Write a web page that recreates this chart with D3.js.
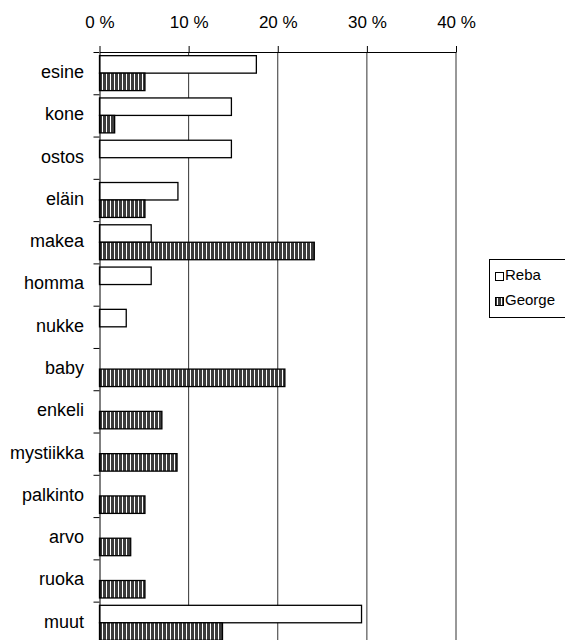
<!DOCTYPE html>
<html>
<head>
<meta charset="utf-8">
<script src="https://cdn.jsdelivr.net/npm/d3@7"></script>
<style>
  html, body { margin: 0; padding: 0; background: #fff; }
  svg { display: block; font-family: "Liberation Sans", Arial, sans-serif; }
</style>
</head>
<body>
<svg id="chart" width="565" height="640"></svg>
<script>
// Word categories and the share (%) of each series
const categories = ["esine", "kone", "ostos", "eläin", "makea", "homma", "nukke", "baby",
                    "enkeli", "mystiikka", "palkinto", "arvo", "ruoka", "muut"];
const reba   = [17.6, 14.8, 14.8, 8.8, 5.8, 5.8, 3.0, 0, 0, 0, 0, 0, 0, 29.4];
const george = [5.1, 1.7, 0, 5.1, 24.1, 0, 0, 20.8, 7.0, 8.7, 5.1, 3.5, 5.1, 13.8];
const seriesNames = ["Reba", "George"];
const xTicks = [0, 10, 20, 30, 40];

const svg = d3.select("#chart");

const plotLeft = 99.5, plotRight = 456, plotTop = 52;
const band = 42.28;

const x = d3.scaleLinear().domain([0, 40]).range([plotLeft, plotRight]);
const y = d3.scaleBand().domain(categories).range([plotTop, plotTop + band * categories.length]);
const yEdge = d3.scaleLinear().domain([0, categories.length]).range([plotTop, plotTop + band * categories.length]);
const ySub = d3.scaleBand().domain(seriesNames).range([0, y.bandwidth()]).paddingInner(0).paddingOuter(0.21);

// striped fill for the second series
const defs = svg.append("defs");
const pat = defs.append("pattern")
  .attr("id", "stripes")
  .attr("patternUnits", "userSpaceOnUse")
  .attr("width", 4).attr("height", 4);
pat.append("rect").attr("width", 4).attr("height", 4).attr("fill", "#3c3c3c");
pat.append("rect").attr("x", 2).attr("width", 1).attr("height", 4).attr("fill", "#fff");

// vertical gridlines
svg.append("g")
  .selectAll("line")
  .data(xTicks.slice(1))
  .join("line")
  .attr("x1", d => x(d)).attr("x2", d => x(d))
  .attr("y1", plotTop).attr("y2", 640)
  .attr("stroke", "#333").attr("stroke-width", 1);

// bars
const rows = categories.map((c, i) => ({ c, values: [reba[i], george[i]] }));
const groups = svg.append("g")
  .selectAll("g")
  .data(rows)
  .join("g")
  .attr("transform", d => `translate(0,${y(d.c)})`);

groups.selectAll("rect")
  .data(d => d.values.map((v, k) => ({ v, s: seriesNames[k] })).filter(e => e.v > 0))
  .join("rect")
  .attr("x", x(0))
  .attr("y", d => ySub(d.s))
  .attr("width", d => x(d.v) - x(0))
  .attr("height", ySub.bandwidth())
  .attr("fill", d => d.s === "Reba" ? "#fff" : "url(#stripes)")
  .attr("stroke", "#000")
  .attr("stroke-width", 1.3);

// top value axis
const xAxis = svg.append("g")
  .attr("transform", `translate(0,${plotTop})`)
  .call(d3.axisTop(x).tickValues(xTicks).tickFormat(d => d + " %").tickSize(6).tickPadding(18).tickSizeOuter(0));
xAxis.select(".domain").attr("stroke", "#000");
xAxis.selectAll("text").attr("font-size", 17).attr("fill", "#000")
  .attr("font-family", "'Liberation Sans', Arial, sans-serif");

// left category axis: ticks on band edges
const yAxis = svg.append("g")
  .attr("transform", `translate(${plotLeft},0)`)
  .call(d3.axisLeft(yEdge).tickValues(d3.range(0, categories.length + 1)).tickFormat("").tickSize(6).tickSizeOuter(0));
yAxis.select(".domain").attr("stroke", "#000");

// category labels centred in each band
svg.append("g")
  .selectAll("text")
  .data(categories)
  .join("text")
  .attr("x", 84)
  .attr("y", d => y(d) + y.bandwidth() / 2)
  .attr("dy", "0.27em")
  .attr("text-anchor", "end")
  .attr("font-size", 18)
  .attr("fill", "#000")
  .text(d => d);

// legend
const legend = svg.append("g");
legend.append("rect")
  .attr("x", 489.5).attr("y", 259.5).attr("width", 80).attr("height", 58)
  .attr("fill", "#fff").attr("stroke", "#000").attr("stroke-width", 1);
const items = legend.selectAll("g.item")
  .data(seriesNames)
  .join("g")
  .attr("class", "item")
  .attr("transform", (d, i) => `translate(495,${280 + i * 25})`);
items.append("rect")
  .attr("x", 0.5).attr("y", -7.5).attr("width", 8).attr("height", 8)
  .attr("fill", d => d === "Reba" ? "#fff" : "url(#stripes)")
  .attr("stroke", "#000").attr("stroke-width", 1);
items.append("text")
  .attr("x", 10)
  .attr("font-size", 15).attr("fill", "#000")
  .text(d => d);
</script>
</body>
</html>
